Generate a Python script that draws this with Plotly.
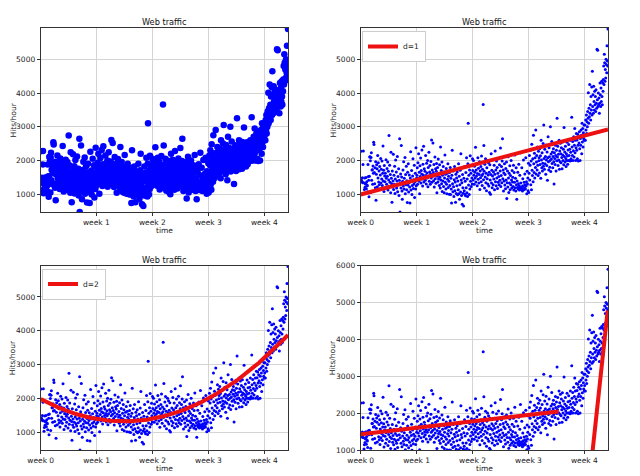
import numpy as np
import plotly.graph_objects as go

# ---- data: hits per hour (one list per week) ----
week0 = [
    2272, 1420, 1386, 1365, 1488, 1337, 1883, 2283, 1335, 1025, 1139, 1477, 1203, 1311, 1299, 1494, 1159, 1365, 1272, 1246, 1071, 1876, 1520, 1410,
    925, 1533, 2104, 2113, 1993, 1045, 2090, 2227, 1413, 1718, 1721, 1291, 1838, 1623, 2540, 2470, 1640, 1310, 1780, 1190, 1960, 820, 1590, 1870,
    1750, 1220, 2150, 1480, 1930, 1360, 1690, 1280, 1820, 1150, 1570, 2060, 1330, 1740, 1450, 1980, 1260, 1620, 2430, 1390, 1710, 1080, 1850, 1540,
    1370, 1620, 1180, 2020, 1470, 1290, 1760, 1530, 1950, 1120, 1680, 1420, 2740, 1230, 1860, 1350, 1580, 1040, 2240, 1470, 1310, 760, 1690, 1210,
    1390, 2180, 1140, 1560, 1290, 1830, 1020, 1450, 2010, 1250, 1660, 1180, 1390, 2120, 1070, 1520, 1280, 1750, 960, 1410, 2640, 470, 1330, 1600,
    1180, 2440, 1510, 1090, 850, 1380, 1720, 1240, 1960, 1150, 1470, 1320, 2090, 1010, 1580, 1280, 1830, 1130, 1400, 750, 1650, 1270, 1900, 1060,
    1340, 1570, 1210, 740, 1480, 2260, 1120, 1390, 1700, 990, 1260, 1540, 2050, 1170, 1430, 1300, 1860, 900, 1370, 1620, 1150, 2380, 1250, 1480,
]
week1 = [
    1560, 1780, 1290, 1930, 1460, 2200, 1380, 1650, 1010, 1840, 1520, 2070, 1330, 1700, 1600, 2310, 1450, 1240, 1890, 1570, 2420, 1360, 1750, 1490,
    1680, 1410, 2150, 1550, 1300, 1920, 1630, 1480, 2000, 1220, 1790, 1540, 2240, 1380, 1660, 1850, 1290, 1600, 1970, 1480, 2610, 1350, 1720, 1530,
    2520, 1640, 1400, 1880, 1210, 1570, 2100, 1460, 1750, 1320, 1680, 1910, 1040, 1530, 1790, 1360, 2040, 1450, 1610, 1260, 1870, 1500, 1180, 2400,
    1420, 1700, 1310, 1950, 1080, 1560, 1390, 1820, 1230, 1660, 1040, 1480, 2160, 1350, 1590, 1150, 1760, 1290, 1010, 1620, 1440, 1900, 1200, 1530,
    1380, 1000, 1640, 1260, 1790, 990, 1470, 1150, 740, 1560, 2300, 1310, 1070, 1690, 1220, 930, 1430, 1820, 1100, 1360, 760, 1590, 1020, 1480,
    1250, 1660, 980, 1390, 1130, 1900, 1010, 1530, 850, 1280, 1710, 1060, 2200, 1420, 960, 1340, 700, 1580, 1190, 1030, 650, 1470, 1100, 1820,
    1000, 1380, 950, 1640, 1190, 2080, 1040, 1450, 930, 1900, 3100, 1270, 1560, 990, 1720, 1150, 2140, 1380, 1620, 1230, 1850, 1480, 1300, 2050,
]
week2 = [
    1700, 1420, 2000, 1560, 1290, 1830, 1650, 1480, 2390, 1360, 1720, 1540, 1900, 1250, 1610, 2080, 1440, 1770, 1330, 1580, 1960, 1140, 1690, 1490,
    1820, 1370, 2130, 1550, 1260, 1740, 1600, 3660, 1430, 2440, 1680, 1180, 1890, 1510, 2050, 1340, 1620, 1100, 1780, 1460, 2000, 1300, 1570, 1930,
    1240, 1650, 1050, 1870, 1420, 1000, 1580, 2200, 1330, 1710, 1190, 1540, 2020, 1280, 1660, 1450, 1860, 1130, 1590, 2280, 1370, 1720, 1250, 1980,
    1480, 1790, 1170, 1620, 1350, 2060, 1520, 1280, 1870, 1410, 1690, 2370, 1230, 1550, 1820, 1340, 1980, 2640, 1460, 1720, 1090, 1630, 1390, 1900,
    1270, 1580, 1160, 1760, 1420, 1950, 870, 1340, 1690, 1210, 2110, 1480, 1050, 1620, 1330, 1840, 1130, 1550, 1280, 2000, 1420, 1180, 1700, 1360,
    1500, 1230, 1860, 1120, 1640, 1350, 2160, 1190, 1470, 1090, 1780, 1280, 850, 1390, 1200, 1650, 1150, 1310, 1890, 1240, 1120, 1560, 1180, 2230,
    1330, 1140, 1220, 1780, 1170, 1090, 1460, 1250, 2010, 1130, 1350, 1190, 1600, 1280, 1150, 2080, 1240, 1370, 1010, 1680, 1300, 1480, 1100, 1920,
]
week3 = [
    1050, 1620, 2150, 1420, 1860, 2300, 1280, 1980, 1130, 2480, 1710, 1550, 2050, 1370, 2750, 1900, 1640, 2210, 1480, 2080, 1790, 2900, 1600, 1950,
    2150, 1720, 2400, 1860, 1550, 2270, 1990, 2080, 1630, 2350, 1880, 2140, 1470, 2600, 2010, 1780, 2230, 1690, 1920, 2500, 1830, 3050, 2060, 1740,
    2330, 1900, 2120, 1590, 2460, 2010, 1850, 2250, 1410, 2080, 2700, 1960, 1720, 2380, 2110, 1800, 2000, 3000, 1670, 2190, 2040, 2560, 1910, 2250,
    1780, 2120, 2350, 1960, 1300, 2230, 2060, 1880, 2450, 2150, 1690, 2300, 1990, 3250, 2100, 2420, 1850, 2180, 2010, 2600, 1740, 2280, 1960, 2510,
    2200, 1930, 2380, 2090, 1750, 2550, 2160, 2000, 2330, 1870, 2980, 2120, 2250, 1950, 2420, 2060, 1820, 2200, 2000, 2540, 2130, 1890, 2310, 2000,
    2470, 2150, 2000, 2330, 1980, 2600, 2240, 2050, 2000, 3280, 2400, 2150, 2560, 2000, 2290, 2700, 2100, 2450, 2950, 2230, 2600, 2000, 2380, 2800,
    2300, 2610, 2050, 2780, 2450, 1980, 2700, 2520, 2850, 2350, 2000, 2650, 2450, 2900, 2750, 2200, 3100, 2550, 2950, 2400, 2820, 2650, 3050, 2600,
]
week4 = [
    2750, 3050, 2600, 3200, 2900, 3350, 2800, 3150, 3000, 3450, 3250, 4010, 3100, 3550, 3300, 4250, 3400, 3650, 3200, 3900, 3500, 4180, 3350, 4650,
    3600, 3950, 3400, 4200, 3750, 3500, 4050, 3650, 3900, 3450, 4100, 3700, 3550, 5300, 3800, 5270, 3600, 4000, 3650, 3850, 3400, 3700, 4300, 3950,
    3600, 4150, 3750, 4350, 3900, 3650, 4300, 4050, 4400, 4800, 4250, 5150, 4900, 4350, 4700, 4450, 5000, 4850, 4600, 5400, 4950, 4800, 5900,
]

hits = week0 + week1 + week2 + week3 + week4
hours = list(range(1, len(hits) + 1))

week_ticks = [0, 168, 336, 504, 672]
week_labels = ["week 0", "week 1", "week 2", "week 3", "week 4"]
y_ticks = [1000, 2000, 3000, 4000, 5000]
y_ticks4 = [1000, 2000, 3000, 4000, 5000, 6000]

# fitted model coefficients (highest power first)
d1_coef = [2.596, 989.0]
d2_coef = [0.010532, -5.26546, 1974.76]
# piecewise linear fits in the 4th panel (end points of each segment)
fa_x = [0, 595]
fa_y = [1428, 2044]
fb_x = [680, 742]
fb_y = [-430, 4780]

BLUE = "#0000ff"
RED = "#ee1111"
FONT = "DejaVu Sans"

# page body has an 8px margin: figure is 632x468 and placed at (8, 8)
W, H = 632, 468

def px(x):
    return x / W

def py(y):
    return 1 - y / H

fig = go.Figure()

L1, R1, L2, R2 = 32.7, 280.0, 352.7, 600.0
T1, B1, T2, B2 = 20.0, 204.0, 257.5, 442.0
doms_x = [[px(L1), px(R1)], [px(L2), px(R2)], [px(L1), px(R1)], [px(L2), px(R2)]]
doms_y = [[py(B1), py(T1)], [py(B1), py(T1)], [py(B2), py(T2)], [py(B2), py(T2)]]

axis_common = dict(showline=True, mirror=True, linecolor="#333", linewidth=1,
                   showgrid=True, gridcolor="#d4d4d4", gridwidth=1, zeroline=False,
                   ticks="outside", ticklen=3, tickcolor="#333",
                   tickfont=dict(family=FONT, size=7.5, color="#222"))

for i in range(4):
    sfx = "" if i == 0 else str(i + 1)
    xr = [1, 743] if i == 0 else [0, 743]
    yr = [1000, 6000] if i == 3 else [470, 5930]
    fig.layout["xaxis" + sfx] = dict(domain=doms_x[i], range=xr, anchor="y" + sfx,
                                     tickvals=week_ticks, ticktext=week_labels, **axis_common)
    fig.layout["yaxis" + sfx] = dict(domain=doms_y[i], range=yr, anchor="x" + sfx,
                                     tickvals=y_ticks4 if i == 3 else y_ticks, **axis_common)
    msize = 6.5 if i == 0 else 3.0
    fig.add_trace(go.Scatter(x=hours, y=hits, mode="markers", xaxis="x" + sfx, yaxis="y" + sfx,
                             marker=dict(color=BLUE, size=msize, line=dict(width=0)),
                             showlegend=False, hoverinfo="skip"))

mx = np.linspace(0, hours[-1], 500)
fig.add_trace(go.Scatter(x=mx, y=np.polyval(d1_coef, mx), mode="lines", xaxis="x2", yaxis="y2",
                         line=dict(color=RED, width=4), name="d=1", legend="legend2"))
fig.add_trace(go.Scatter(x=mx, y=np.polyval(d2_coef, mx), mode="lines", xaxis="x3", yaxis="y3",
                         line=dict(color=RED, width=4), name="d=2", legend="legend3"))
fig.add_trace(go.Scatter(x=fa_x, y=fa_y, mode="lines", xaxis="x4", yaxis="y4",
                         line=dict(color=RED, width=4), showlegend=False))
fig.add_trace(go.Scatter(x=fb_x, y=fb_y, mode="lines", xaxis="x4", yaxis="y4",
                         line=dict(color=RED, width=4), showlegend=False))

leg_common = dict(bgcolor="white", bordercolor="#cccccc", borderwidth=1,
                  font=dict(family=FONT, size=7.5, color="#222"),
                  xanchor="left", yanchor="top", itemwidth=30,
                  tracegroupgap=0)
fig.layout.legend2 = dict(x=px(354.0), y=py(23.0), **leg_common)
fig.layout.legend3 = dict(x=px(34.0), y=py(260.5), **leg_common)

annotations = []
c1 = px((L1 + R1) / 2)
c2 = px((L2 + R2) / 2)
for (cx, ty, xt_y, yl_x, yc) in [
    (c1, 13.5, 222.0, 4.5, (T1 + B1) / 2), (c2, 13.5, 222.0, 324.5, (T1 + B1) / 2),
    (c1, 251.5, 460.5, 4.5, (T2 + B2) / 2), (c2, 251.5, 460.5, 324.5, (T2 + B2) / 2)]:
    annotations.append(dict(text="Web traffic", x=cx, y=py(ty), xref="paper", yref="paper",
                            showarrow=False, xanchor="center", yanchor="middle",
                            font=dict(family=FONT, size=8.2, color="#111")))
    annotations.append(dict(text="time", x=cx, y=py(xt_y), xref="paper", yref="paper",
                            showarrow=False, xanchor="center", yanchor="middle",
                            font=dict(family=FONT, size=7.5, color="#222")))
    annotations.append(dict(text="Hits/hour", x=px(yl_x), y=py(yc), xref="paper", yref="paper",
                            showarrow=False, xanchor="center", yanchor="middle", textangle=-90,
                            font=dict(family=FONT, size=7.5, color="#222")))

fig.update_layout(width=W, height=H, autosize=False,
                  margin=dict(l=0, r=0, t=0, b=0, autoexpand=False),
                  paper_bgcolor="white", plot_bgcolor="white",
                  annotations=annotations, showlegend=True)

fig.write_html("out.html")
